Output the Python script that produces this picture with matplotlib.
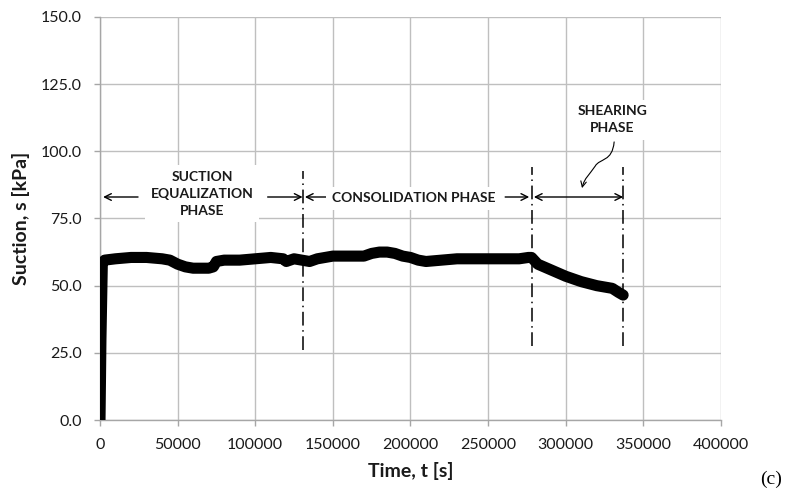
import matplotlib
matplotlib.use("Agg")
import matplotlib.pyplot as plt
from matplotlib.path import Path
from matplotlib.patches import FancyArrowPatch

plt.rcParams['font.family'] = ['Lato', 'DejaVu Sans']

# Suction record over the test (time in s, suction in kPa)
time_s = [0, 600, 1500, 3000, 10000, 20000, 30000, 40000, 45000, 50000, 55000,
          60000, 65000, 70000, 73000, 75000, 80000, 90000, 100000, 110000,
          118000, 120000, 125000, 130000, 135000, 140000, 145000, 150000,
          160000, 170000, 175000, 180000, 185000, 190000, 195000, 200000,
          205000, 210000, 220000, 230000, 240000, 250000, 260000, 270000,
          276000, 278000, 282000, 290000, 300000, 310000, 320000, 325000,
          330000, 334000, 337000]
suction_kpa = [0, 30, 58.5, 59.5, 60, 60.5, 60.5, 60, 59.5, 58, 57,
               56.5, 56.5, 56.5, 57, 59, 59.5, 59.5, 60, 60.5,
               60, 59, 60, 59.5, 59, 60, 60.5, 61,
               61, 61, 62, 62.5, 62.5, 62, 61, 60.5,
               59.5, 59, 59.5, 60, 60, 60, 60, 60,
               60.5, 60.5, 58, 56, 53.5, 51.5, 50, 49.5,
               49, 47.5, 46.5]

# Phase boundaries (s) and annotation levels (kPa)
phase_bounds = [131000, 278000, 337000]
bound_lo = [26, 27.5, 27.5]
bound_hi = [92.5, 94, 94]
arrow_level = 83

x_ticks = [0, 50000, 100000, 150000, 200000, 250000, 300000, 350000, 400000]
y_ticks = [0, 25, 50, 75, 100, 125, 150]

fig = plt.figure(figsize=(7.88, 4.91), dpi=100)
ax = fig.add_axes([0.1269, 0.1446, 0.788, 0.8208])

ax.set_xlim(0, 400000)
ax.set_ylim(0, 150)
ax.set_xticks(x_ticks)
ax.set_xticklabels([str(v) for v in x_ticks])
ax.set_yticks(y_ticks)
ax.set_yticklabels([f"{v:.1f}" for v in y_ticks])
ax.grid(True, color='#bfbfbf', lw=1.0)
ax.set_axisbelow(True)
for side in ['top', 'right']:
    ax.spines[side].set_visible(False)
for side in ['left', 'bottom']:
    ax.spines[side].set_color('#a6a6a6')
    ax.spines[side].set_linewidth(1.0)
ax.tick_params(axis='both', colors='#a6a6a6', length=4, width=1.0,
               labelcolor='#1a1a1a', labelsize=11.5, pad=9)

ax.plot(time_s, suction_kpa, color='black', lw=8,
        solid_capstyle='round', solid_joinstyle='round', zorder=3)

# Phase boundaries
for tb, lo, hi in zip(phase_bounds, bound_lo, bound_hi):
    ax.plot([tb, tb], [lo, hi], color='black', lw=1.1,
            linestyle=(0, (9, 3, 1, 3)), zorder=4)

arrow_kw = dict(arrowstyle='->', color='black', lw=1.0, mutation_scale=12,
                shrinkA=0, shrinkB=0)

def arrow(x0, x1, style='->'):
    kw = dict(arrow_kw)
    kw['arrowstyle'] = style
    ax.annotate('', xy=(x1, arrow_level), xytext=(x0, arrow_level),
                arrowprops=kw, zorder=5)

arrow(24500, 2000)
arrow(108000, 130500)
arrow(148000, 132000)
arrow(261000, 276500)
arrow(279500, 337000, '<->')

txt_kw = dict(fontsize=10, fontweight='bold', color='#1a1a1a',
              ha='center', va='center', linespacing=1.5, zorder=6,
              bbox=dict(facecolor='white', edgecolor='none', pad=4))
ax.text(65700, 84.3, "SUCTION\nEQUALIZATION\nPHASE", **txt_kw)
ax.text(201800, 82.6, "CONSOLIDATION PHASE", **txt_kw)
ax.text(330000, 111.8, "SHEARING\nPHASE", **txt_kw)

# Curved pointer from the shearing label
curve = Path([(331200, 103.5), (330000, 96.0), (322000, 97.5), (319000, 94.5),
              (315500, 91.5), (312000, 90.0), (310500, 86.3)],
             [Path.MOVETO, Path.CURVE4, Path.CURVE4, Path.CURVE4,
              Path.CURVE4, Path.CURVE4, Path.CURVE4])
ax.add_patch(FancyArrowPatch(path=curve, arrowstyle='->', color='black',
                             lw=0.8, mutation_scale=10,
                             transform=ax.transData, zorder=6))

ax.set_xlabel("Time, t [s]", fontsize=14, fontweight='bold', color='#1a1a1a')
ax.set_ylabel("Suction, s [kPa]", fontsize=14, fontweight='bold', color='#1a1a1a')
ax.xaxis.set_label_coords(0.5, -0.105)
ax.yaxis.set_label_coords(-0.113, 0.5)

fig.text(0.993, 0.006, "(c)", fontsize=14, family='Liberation Serif',
         ha='right', va='bottom', color='black')

fig.savefig("out.png", dpi=100)
